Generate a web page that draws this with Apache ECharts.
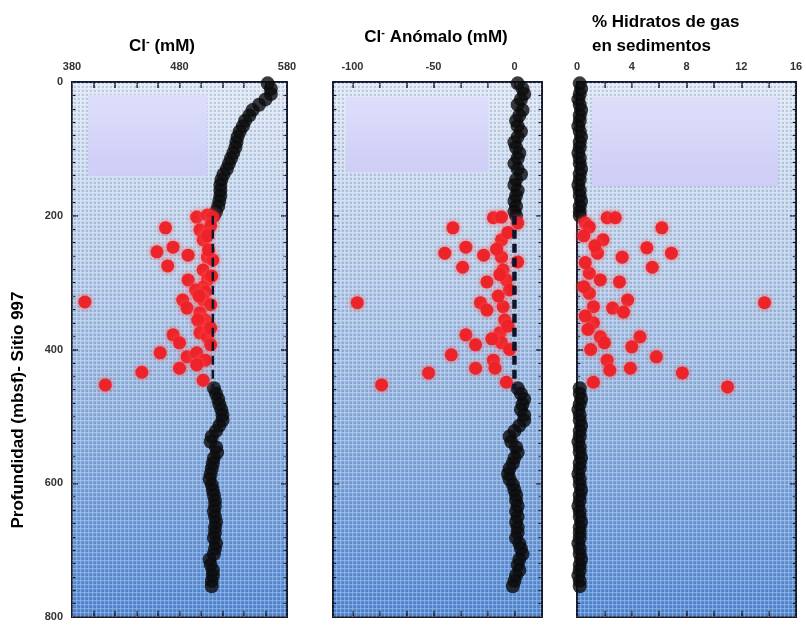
<!DOCTYPE html>
<html>
<head>
<meta charset="utf-8">
<script src="https://cdn.jsdelivr.net/npm/echarts@6/dist/echarts.min.js"></script>
<style>
  html, body { margin: 0; background: #fff; }
  #chart { width: 806px; height: 625px; }
</style>
</head>
<body>
<div id="chart"></div>
<script>
// black samples (pore water), upper and lower sections, depth in mbsf
const depthUpper = [2, 10, 18, 26, 34, 42, 50, 58, 66, 74, 82, 90, 98, 106, 114, 122, 130, 138, 146, 154, 162, 170, 178, 186, 194, 200];
const depthLower = [458, 466, 474, 482, 490, 498, 506, 514, 522, 530, 538, 546, 554, 562, 570, 578, 586, 594, 602, 610, 618, 626, 634, 642, 650, 658, 666, 674, 682, 690, 698, 706, 714, 722, 730, 738, 746, 754];

const clUpper = [562, 565, 565, 560, 554, 548, 545, 541, 539, 536, 534, 533, 532, 530, 528, 526, 524, 521, 519, 518, 518, 518, 517, 516, 514, 512];
const clLower = [512, 514, 516, 517, 519, 520, 520, 517, 514, 510, 509, 514, 515, 512, 511, 510, 509, 508, 510, 511, 512, 513, 513, 512, 513, 514, 513, 513, 512, 514, 513, 512, 508, 509, 511, 511, 510, 510];

const anomUpper = [2, 5, 6, 4, 2, 5, 3, 1, 2, 4, 2, 0, 1, 3, 2, 0, 2, 4, 1, 0, 2, 1, 0, 1, 0, 1];
const anomLower = [2, 4, 6, 5, 4, 6, 6, 3, 0, -3, -2, 1, 2, 0, -1, -3, -4, -3, -1, 0, 1, 1, 2, 1, 2, 1, 2, 2, 1, 3, 4, 5, 3, 2, 3, 1, 0, -1];

const hydUpper = [0.2, 0.3, 0.2, 0.1, 0.2, 0.3, 0.2, 0.2, 0.1, 0.2, 0.3, 0.2, 0.2, 0.1, 0.2, 0.2, 0.3, 0.2, 0.2, 0.1, 0.2, 0.2, 0.3, 0.2, 0.2, 0.2];
const hydLower = [0.2, 0.2, 0.3, 0.2, 0.1, 0.2, 0.2, 0.3, 0.2, 0.2, 0.1, 0.2, 0.2, 0.3, 0.2, 0.2, 0.1, 0.2, 0.2, 0.3, 0.2, 0.2, 0.1, 0.2, 0.2, 0.3, 0.2, 0.2, 0.2, 0.1, 0.2, 0.2, 0.3, 0.2, 0.2, 0.1, 0.2, 0.2];

// red samples (hydrate zone)
const redDepth1 = [202, 199, 202, 221, 215, 218, 247, 254, 259, 275, 236, 262, 266, 281, 251, 296, 296, 307, 311, 314, 329, 326, 338, 326, 333, 345, 356, 360, 356, 378, 390, 375, 381, 393, 405, 411, 405, 416, 428, 423, 434, 453, 446, 230, 290, 320, 368];
const redCl = [496, 506, 511, 499, 509, 467, 474, 459, 488, 469, 502, 506, 511, 502, 507, 488, 506, 502, 495, 504, 392, 483, 487, 502, 509, 499, 504, 502, 497, 474, 480, 499, 506, 509, 462, 487, 496, 504, 480, 496, 445, 411, 502, 506, 510, 498, 509];

const redDepth2 = [203, 202, 211, 218, 236, 247, 256, 259, 277, 262, 269, 281, 299, 296, 311, 330, 330, 341, 336, 356, 375, 378, 393, 390, 408, 416, 428, 428, 435, 453, 449, 225, 320, 365, 400, 250, 288, 384];
const redAnom = [-13, -8, 2, -38, -8, -30, -43, -19, -32, -8, 2, -7, -17, -5, -3, -97, -21, -17, -7, -6, -9, -30, -24, -8, -39, -13, -24, -12, -53, -82, -5, -4, -10, -4, -3, -11, -9, -14];

const redDepth3 = [211, 217, 203, 203, 218, 236, 248, 262, 256, 277, 256, 286, 296, 299, 316, 330, 326, 338, 336, 344, 360, 381, 396, 381, 411, 416, 428, 431, 435, 456, 449, 230, 270, 306, 350, 370, 400, 245, 390];
const redHyd = [0.6, 0.9, 2.2, 2.8, 6.2, 1.9, 5.1, 3.3, 6.9, 5.5, 1.5, 0.9, 1.7, 3.1, 0.9, 13.7, 3.7, 2.6, 1.2, 3.4, 1.2, 4.6, 4.0, 1.7, 5.8, 2.2, 3.9, 2.4, 7.7, 11.0, 1.2, 0.5, 0.6, 0.5, 0.6, 0.8, 1.0, 1.3, 2.0];

// dashed background trend through the hydrate zone
const baseDepth = [200, 460];
const baseCl = [511, 511];
const baseAnom = [0, 0];

// axis ticks / labels
const clLabels = [380, 480, 580];
const clTicks = [400, 420, 440, 460, 480, 500, 520, 540, 560];
const anomLabels = [-100, -50, 0];
const anomTicks = [-100, -83.33, -66.67, -50, -33.33, -16.67, 0];
const hydLabels = [0, 4, 8, 12, 16];
const hydTicks = [2, 4, 6, 8, 10, 12, 14];

const depthBlack = depthUpper.concat(depthLower);
const pair = (xs, ys) => xs.map((x, i) => [x, ys[i]]);

const panels = [
  {
    left: 72, width: 215, min: 380, max: 580,
    labels: clLabels, ticks: clTicks,
    black: pair(clUpper.concat(clLower), depthBlack),
    red: pair(redCl, redDepth1),
    base: pair(baseCl, baseDepth), baseWidth: 2.5,
    box: [[395, 19], [506, 141]],
  },
  {
    left: 333, width: 209, min: -112, max: 17,
    labels: anomLabels, ticks: anomTicks,
    black: pair(anomUpper.concat(anomLower), depthBlack),
    red: pair(redAnom, redDepth2),
    base: pair(baseAnom, baseDepth), baseWidth: 4.5,
    box: [[-104, 22], [-16, 135]],
  },
  {
    left: 577, width: 219, min: 0, max: 16,
    labels: hydLabels, ticks: hydTicks,
    black: pair(hydUpper.concat(hydLower), depthBlack),
    red: pair(redHyd, redDepth3),
    base: null,
    box: [[1.1, 22], [14.7, 156]],
  },
];

const TOP = 82;
const HEIGHT = 535;
const lineColor = '#151a2c';

const bgGradient = () => new echarts.graphic.LinearGradient(0, 0, 0, 1, [
  { offset: 0, color: '#dfe8f4' },
  { offset: 0.35, color: '#b8cde9' },
  { offset: 0.65, color: '#8db0df' },
  { offset: 1, color: '#548ad4' },
]);

const boxGradient = () => new echarts.graphic.LinearGradient(0, 0, 0, 1, [
  { offset: 0, color: '#dedefb' },
  { offset: 1, color: '#cdcdf6' },
]);

// fine dotted screen like the scanned figure
const dots = document.createElement('canvas');
dots.width = 4;
dots.height = 4;
const dctx = dots.getContext('2d');
dctx.fillStyle = 'rgba(255,255,255,0.22)';
dctx.fillRect(0, 0, 4, 1);
dctx.fillRect(0, 0, 1, 4);
dctx.fillStyle = 'rgba(25,55,120,0.16)';
dctx.fillRect(2, 2, 2, 2);

const grid = [];
const xAxis = [];
const yAxis = [];
const series = [];
const graphic = [];

panels.forEach((p, i) => {
  grid.push({
    left: p.left, top: TOP, width: p.width, height: HEIGHT,
    show: true, backgroundColor: bgGradient(),
    borderColor: lineColor, borderWidth: 2,
  });
  graphic.push({
    type: 'rect', z: 1, silent: true,
    shape: { x: p.left, y: TOP, width: p.width, height: HEIGHT },
    style: { fill: { image: dots, repeat: 'repeat' } },
  });

  const xBase = {
    gridIndex: i, type: 'value', min: p.min, max: p.max,
    splitLine: { show: false },
    axisLine: { show: true, onZero: false, lineStyle: { color: lineColor, width: 2 } },
    axisTick: { show: true, inside: true, length: 6, customValues: p.ticks, lineStyle: { color: lineColor, width: 1.5 } },
  };
  xAxis.push(Object.assign({}, xBase, {
    position: 'top',
    axisLabel: {
      show: true, customValues: p.labels, margin: 10,
      color: '#333', fontSize: 11, fontWeight: 'bold', fontFamily: 'Liberation Sans',
    },
  }));
  xAxis.push(Object.assign({}, xBase, { position: 'bottom', axisLabel: { show: false } }));

  const yBase = {
    gridIndex: i, type: 'value', min: 0, max: 800, interval: 200, inverse: true,
    splitLine: { show: false },
    axisLine: { show: true, onZero: false, lineStyle: { color: lineColor, width: 2 } },
    axisTick: { show: true, inside: true, length: 6, lineStyle: { color: lineColor, width: 1.5 } },
    minorTick: { show: true, splitNumber: 10, length: 3.5, lineStyle: { color: lineColor, width: 1.2 } },
  };
  yAxis.push(Object.assign({}, yBase, {
    position: 'left',
    axisLabel: {
      show: i === 0, margin: 9,
      color: '#333', fontSize: 11, fontWeight: 'bold', fontFamily: 'Liberation Sans',
    },
  }));
  yAxis.push(Object.assign({}, yBase, { position: 'right', axisLabel: { show: false } }));

  const xi = i * 2;
  const yi = i * 2;

  series.push({
    type: 'scatter', xAxisIndex: xi, yAxisIndex: yi, data: [], silent: true,
    markArea: {
      silent: true,
      itemStyle: { color: boxGradient() },
      data: [[{ coord: p.box[0] }, { coord: p.box[1] }]],
    },
  });
  series.push({
    type: 'scatter', xAxisIndex: xi, yAxisIndex: yi, z: 3,
    symbolSize: 14, clip: false,
    itemStyle: { color: '#0b0b0d' },
    data: p.black,
  });
  series.push({
    type: 'scatter', xAxisIndex: xi, yAxisIndex: yi, z: 4,
    symbolSize: 13,
    itemStyle: { color: '#ec2026', opacity: 0.95, shadowBlur: 5, shadowColor: 'rgba(255,80,80,0.9)' },
    data: p.red,
  });
  if (p.base) {
    series.push({
      type: 'line', xAxisIndex: xi, yAxisIndex: yi, z: 5,
      symbol: 'none',
      lineStyle: { color: '#10142a', width: p.baseWidth, type: [9, 5] },
      data: p.base,
    });
  }
});

const titleFont = { fontFamily: 'Liberation Sans', fontWeight: 'bold', fontSize: 17, fill: '#000' };
const rich = {
  b: { fontFamily: 'Liberation Sans', fontWeight: 'bold', fontSize: 17, color: '#000' },
  s: { fontFamily: 'Liberation Sans', fontWeight: 'bold', fontSize: 11, color: '#000', verticalAlign: 'top', padding: [0, 0, 8, 0] },
};

graphic.push(
  {
    type: 'text', x: 162, y: 46,
    style: { text: '{b|Cl}{s|-}{b| (mM)}', rich, align: 'center', verticalAlign: 'middle' },
  },
  {
    type: 'text', x: 436, y: 37,
    style: { text: '{b|Cl}{s|-}{b| Anómalo (mM)}', rich, align: 'center', verticalAlign: 'middle' },
  },
  {
    type: 'text', x: 592, y: 22,
    style: Object.assign({ text: '% Hidratos de gas', align: 'left', verticalAlign: 'middle' }, titleFont),
  },
  {
    type: 'text', x: 592, y: 46,
    style: Object.assign({ text: 'en sedimentos', align: 'left', verticalAlign: 'middle' }, titleFont),
  },
  {
    type: 'text', x: 18, y: 410, rotation: Math.PI / 2,
    style: Object.assign({ text: 'Profundidad (mbsf)- Sitio 997', align: 'center', verticalAlign: 'middle' }, titleFont),
  }
);

const chart = echarts.init(document.getElementById('chart'));
chart.setOption({
  animation: false,
  backgroundColor: '#fff',
  grid,
  xAxis,
  yAxis,
  series,
  graphic,
});
</script>
</body>
</html>
